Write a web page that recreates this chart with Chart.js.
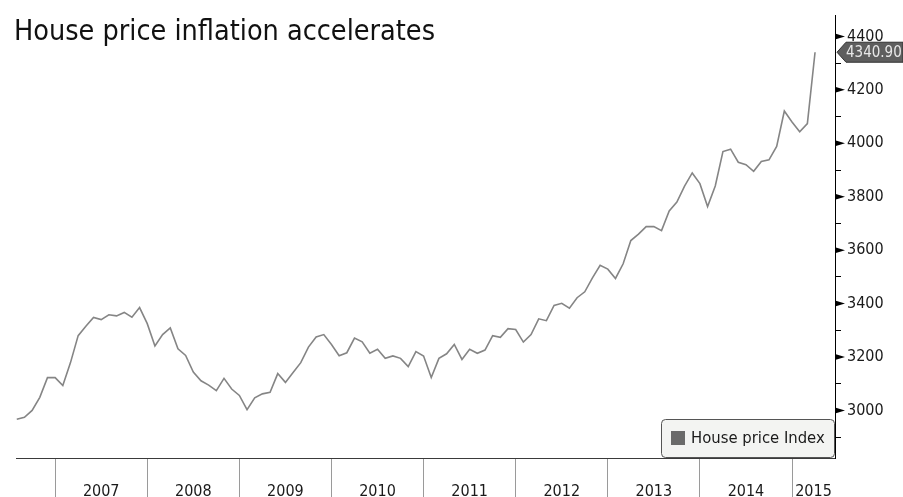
<!DOCTYPE html>
<html>
<head>
<meta charset="utf-8">
<script src="https://cdn.jsdelivr.net/npm/chart.js@4.4.1/dist/chart.umd.min.js"></script>
<style>
  html, body { margin: 0; padding: 0; background: #fff; }
</style>
</head>
<body>
<canvas id="housePrice" width="903" height="497"></canvas>
<script>
const FONT = "'DejaVu Sans Condensed', 'Liberation Sans Narrow', 'DejaVu Sans', sans-serif";

// months counted from Jan 2007 = 0, series starts Aug 2006
const firstMonth = -5;
const years = ['2007', '2008', '2009', '2010', '2011', '2012', '2013', '2014', '2015'];
const houseIndex = [
    2967, 2974, 3000, 3049, 3123, 3123, 3093, 3179, 3280, 3315, 3348, 3340, 3358, 3354,
    3367, 3349, 3385, 3325, 3241, 3284, 3309, 3231, 3206, 3144, 3111, 3095, 3074,
    3120, 3080, 3056, 3003, 3047, 3062, 3068, 3138, 3105, 3142, 3179, 3237, 3275, 3284,
    3247, 3205, 3216, 3271, 3257, 3214, 3229, 3195, 3204, 3195, 3164, 3220, 3204,
    3123, 3195, 3212, 3247, 3191, 3229, 3214, 3226, 3280, 3274, 3306, 3303, 3256, 3284,
    3343, 3336, 3393, 3401, 3383, 3422, 3444, 3496, 3543, 3529, 3494, 3549, 3636, 3660,
    3688, 3688, 3673, 3747, 3780, 3840, 3889, 3849, 3763, 3840, 3969, 3978, 3929, 3920,
    3895, 3932, 3938, 3988, 4121, 4080, 4043, 4074, 4340.9
];
const lastLabel = '4340.90';
const seriesName = 'House price Index';
const chartTitle = 'House price inflation accelerates';

const xMin = -5.1;
const xMax = 101.6;

const points = houseIndex.map((v, i) => ({ x: firstMonth + i, y: v }));

const decor = {
    id: 'decor',
    afterDraw(chart) {
        const c = chart.ctx;
        const ys = chart.scales.y;
        const area = chart.chartArea;
        c.save();

        // arrow markers on the major y ticks
        c.fillStyle = '#000';
        ys.ticks.forEach(t => {
            if (t.value % 200 !== 0) return;
            const py = ys.getPixelForValue(t.value);
            c.beginPath();
            c.moveTo(area.right, py - 3);
            c.lineTo(area.right + 10, py);
            c.lineTo(area.right, py + 3);
            c.closePath();
            c.fill();
        });

        // last value badge
        const ly = ys.getPixelForValue(houseIndex[houseIndex.length - 1]);
        c.beginPath();
        c.moveTo(area.right + 2, ly);
        c.lineTo(area.right + 11, ly - 10);
        c.lineTo(903, ly - 10);
        c.lineTo(903, ly + 10);
        c.lineTo(area.right + 11, ly + 10);
        c.closePath();
        c.fillStyle = '#5e5e5e';
        c.fill();
        c.strokeStyle = '#333';
        c.lineWidth = 1;
        c.stroke();
        c.fillStyle = '#e8e8e8';
        c.font = '15px ' + FONT;
        c.textAlign = 'left';
        c.textBaseline = 'middle';
        c.fillText(lastLabel, area.right + 11, ly + 1);

        // title
        c.fillStyle = '#111';
        c.font = '28.5px ' + FONT;
        c.textBaseline = 'alphabetic';
        c.fillText(chartTitle, 14, 40);

        // legend box
        c.beginPath();
        c.roundRect(661.5, 419.5, 173, 38, 4);
        c.fillStyle = '#f3f4f2';
        c.fill();
        c.strokeStyle = '#555';
        c.stroke();
        c.fillStyle = '#6a6a6a';
        c.fillRect(671, 431, 14, 14);
        c.fillStyle = '#1a1a1a';
        c.font = '16.5px ' + FONT;
        c.textBaseline = 'middle';
        c.fillText(seriesName, 691, 439);

        c.restore();
    }
};

const config = {
    type: 'line',
    data: {
        datasets: [{
            label: seriesName,
            data: points,
            borderColor: '#858585',
            borderWidth: 1.6,
            pointRadius: 0,
            tension: 0
        }]
    },
    options: {
        responsive: false,
        animation: false,
        layout: {
            padding: { left: 16, top: 11, right: 0, bottom: 0 }
        },
        scales: {
            x: {
                type: 'linear',
                position: 'bottom',
                min: xMin,
                max: xMax,
                afterBuildTicks: scale => {
                    const ticks = [];
                    for (let m = 0; m <= 96; m += 12) {
                        ticks.push({ value: m });
                        ticks.push({ value: m < 96 ? m + 6 : (96 + xMax) / 2 });
                    }
                    scale.ticks = ticks;
                },
                afterFit: scale => { scale.height = 39; },
                border: { display: true, color: '#3a3a3a', width: 1 },
                grid: {
                    drawOnChartArea: false,
                    drawTicks: true,
                    tickLength: 39,
                    color: c => (c.tick && c.tick.value % 12 === 0) ? '#9a9a9a' : 'rgba(0,0,0,0)'
                },
                ticks: {
                    autoSkip: false,
                    maxRotation: 0,
                    padding: -15,
                    color: '#1a1a1a',
                    font: { family: FONT, size: 16 },
                    callback: v => v % 12 === 0 ? '' : years[Math.floor(v / 12)]
                }
            },
            y: {
                position: 'right',
                min: 2822,
                max: 4478,
                afterBuildTicks: scale => {
                    const ticks = [];
                    for (let v = 2900; v <= 4400; v += 100) ticks.push({ value: v });
                    scale.ticks = ticks;
                },
                afterFit: scale => { scale.width = 68; },
                border: { display: true, color: '#000', width: 1 },
                grid: {
                    drawOnChartArea: false,
                    drawTicks: true,
                    tickLength: 6,
                    color: '#000'
                },
                ticks: {
                    padding: 6,
                    color: '#1a1a1a',
                    font: { family: FONT, size: 16 },
                    callback: v => v % 200 === 0 ? String(v) : ''
                }
            }
        },
        plugins: {
            legend: { display: false },
            tooltip: { enabled: false }
        }
    },
    plugins: [decor]
};

new Chart(document.getElementById('housePrice'), config);
</script>
</body>
</html>
